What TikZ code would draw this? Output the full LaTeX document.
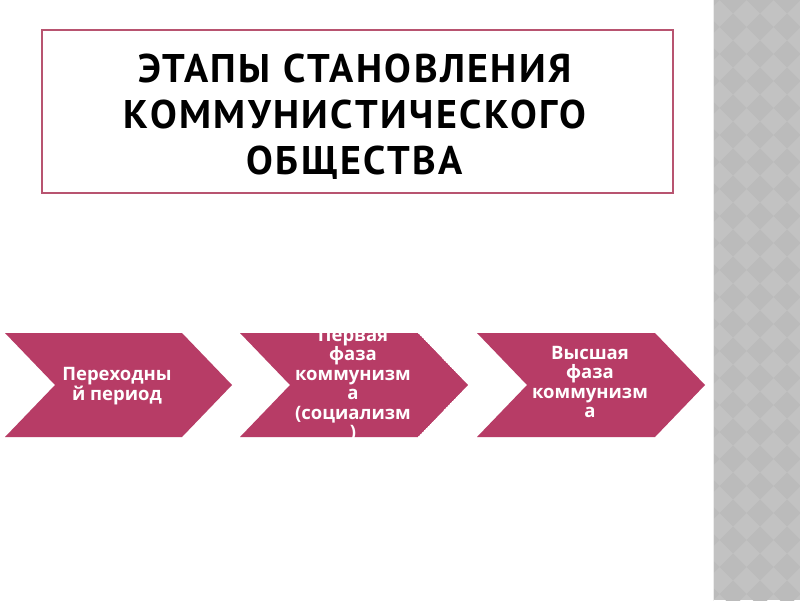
\documentclass[tikz,border=0pt]{standalone}
\usepackage{fontspec}
\setmainfont{Open Sans}
\newfontfamily\titlefont[LetterSpace=6]{PT Sans}
\definecolor{chev}{RGB}{183,60,102}
\definecolor{frame}{RGB}{184,84,112}
\definecolor{stripbg}{RGB}{194,194,194}
\definecolor{stripdk}{RGB}{187,187,187}
\tikzset{
  chevshape/.style={fill=chev,draw=none},
  chevtext/.style={text=white,align=center,font=\bfseries\fontsize{18.5}{19.5}\selectfont,inner sep=0pt},
}
\begin{document}
\begin{tikzpicture}[x=1pt,y=-1pt]
\useasboundingbox (0,0) rectangle (800,600);
\fill[white] (0,0) rectangle (800,600);
% right strip
\fill[stripbg] (713,0) rectangle (800,600);
\begin{scope}
\clip (713,0) rectangle (800,600);
\foreach \i in {0,...,4}{
  \foreach \j in {0,...,23}{
    \fill[stripdk] ({706+27*\i},{27*\j-13.5}) -- ++(13.5,13.5) -- ++(-13.5,13.5) -- ++(-13.5,-13.5) -- cycle;
  }
}
\end{scope}
\draw[white!85!gray,line width=1.5pt] (713.5,0) -- (713.5,600);
% title
\node[draw=frame,line width=2.5pt,minimum width=631,minimum height=163,anchor=north west,inner sep=0pt] (title) at (40.5,28.5) {};
\node[align=center,font=\titlefont\bfseries\fontsize{40}{46}\selectfont] (ttext) at (355,117) {ЭТАПЫ СТАНОВЛЕНИЯ\\КОММУНИСТИЧЕСКОГО\\ОБЩЕСТВА};
% chevrons
\fill[chevshape] (5,333) -- (182,333) -- (232,385) -- (182,437) -- (5,437) -- (55,385) -- cycle;
\node[chevtext] (c1) at (117,386) {Переходны\\й период};
\begin{scope}
\clip (240,333) -- (418,333) -- (468,385) -- (418,437) -- (240,437) -- (290,385) -- cycle;
\fill[chevshape] (240,333) -- (418,333) -- (468,385) -- (418,437) -- (240,437) -- (290,385) -- cycle;
\node[chevtext] (c2) at (353,385) {Первая\\фаза\\коммунизм\\а\\(социализм\\)};
\end{scope}
\fill[chevshape] (477,333) -- (655,333) -- (705,385) -- (655,437) -- (477,437) -- (527,385) -- cycle;
\node[chevtext] (c3) at (590,382) {Высшая\\фаза\\коммунизм\\а};
\end{tikzpicture}
\end{document}
